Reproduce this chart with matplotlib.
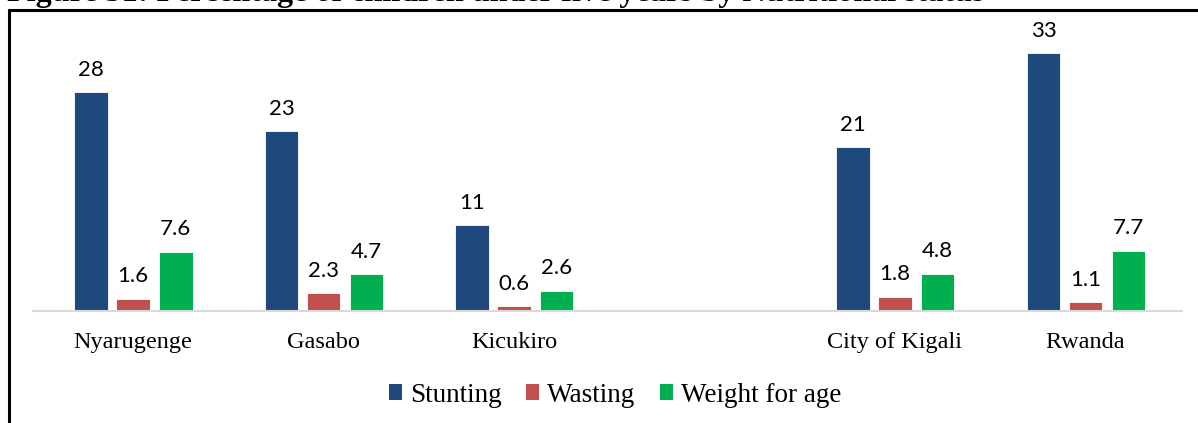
import matplotlib
matplotlib.use("Agg")
import matplotlib.pyplot as plt
from matplotlib.lines import Line2D
from matplotlib.patches import Patch
import numpy as np

categories = ["Nyarugenge", "Gasabo", "Kicukiro", "", "City of Kigali", "Rwanda"]
stunting = [28, 23, 11, None, 21, 33]
wasting = [1.6, 2.3, 0.6, None, 1.8, 1.1]
weight_for_age = [7.6, 4.7, 2.6, None, 4.8, 7.7]
series_names = ["Stunting", "Wasting", "Weight for age"]
series_colors = ["#1F497D", "#C0504D", "#00B050"]
title = "Figure 31: Percentage of children under five years by Nutritional status"

W, H = 1198, 423
fig = plt.figure(figsize=(W / 100, H / 100), dpi=100)
fig.patch.set_facecolor("white")

ax = fig.add_axes([33 / W, 112 / H, (1182 - 33) / W, 281 / H])
x = np.arange(len(categories))
bar_w = 0.175
offsets = [-0.22, 0.0, 0.225]
label_font = dict(family=["Lato", "DejaVu Sans"], fontsize=16, color="black")

for vals, off, color in zip([stunting, wasting, weight_for_age], offsets, series_colors):
    xs = [xi + off for xi, v in zip(x, vals) if v is not None]
    vs = [v for v in vals if v is not None]
    bars = ax.bar(xs, vs, width=bar_w, color=color, edgecolor="white", linewidth=0.6)
    for b, v in zip(bars, vs):
        ax.annotate(f"{v:g}", (b.get_x() + b.get_width() / 2, v), xytext=(0, 9),
                    textcoords="offset points", ha="center", va="bottom", **label_font)

ax.set_xlim(-0.525, 5.507)
ax.set_ylim(0, 36)
for s in ["top", "right", "left"]:
    ax.spines[s].set_visible(False)
ax.spines["bottom"].set_color("#D9D9D9")
ax.spines["bottom"].set_linewidth(1.5)
ax.set_yticks([])
ax.set_xticks(x)
ax.set_xticklabels(categories, family="Liberation Serif", fontsize=17.5)
ax.tick_params(axis="x", length=0, pad=15)

handles = [Patch(facecolor=c, edgecolor="none") for c in series_colors]
fig.legend(handles, series_names, loc="center", bbox_to_anchor=(615 / W, 28 / H),
           ncol=3, frameon=False, prop=dict(family="Liberation Serif", size=19.5),
           handlelength=0.48, handleheight=0.55, handletextpad=0.3, columnspacing=0.9)

# border of the figure box
fig.add_artist(Line2D([8.5 / W, 8.5 / W], [0, 1 - 9 / H], transform=fig.transFigure,
                      color="black", linewidth=2.2, solid_capstyle="butt"))
fig.add_artist(Line2D([7.5 / W, 1], [1 - 10 / H, 1 - 10 / H], transform=fig.transFigure,
                      color="black", linewidth=2.2, solid_capstyle="butt"))

fig.text(7 / W, 1 - 1 / H, title, ha="left", va="baseline", family="Liberation Serif",
         fontweight="bold", fontsize=23.1, color="black")

fig.savefig("out.png", dpi=100)
